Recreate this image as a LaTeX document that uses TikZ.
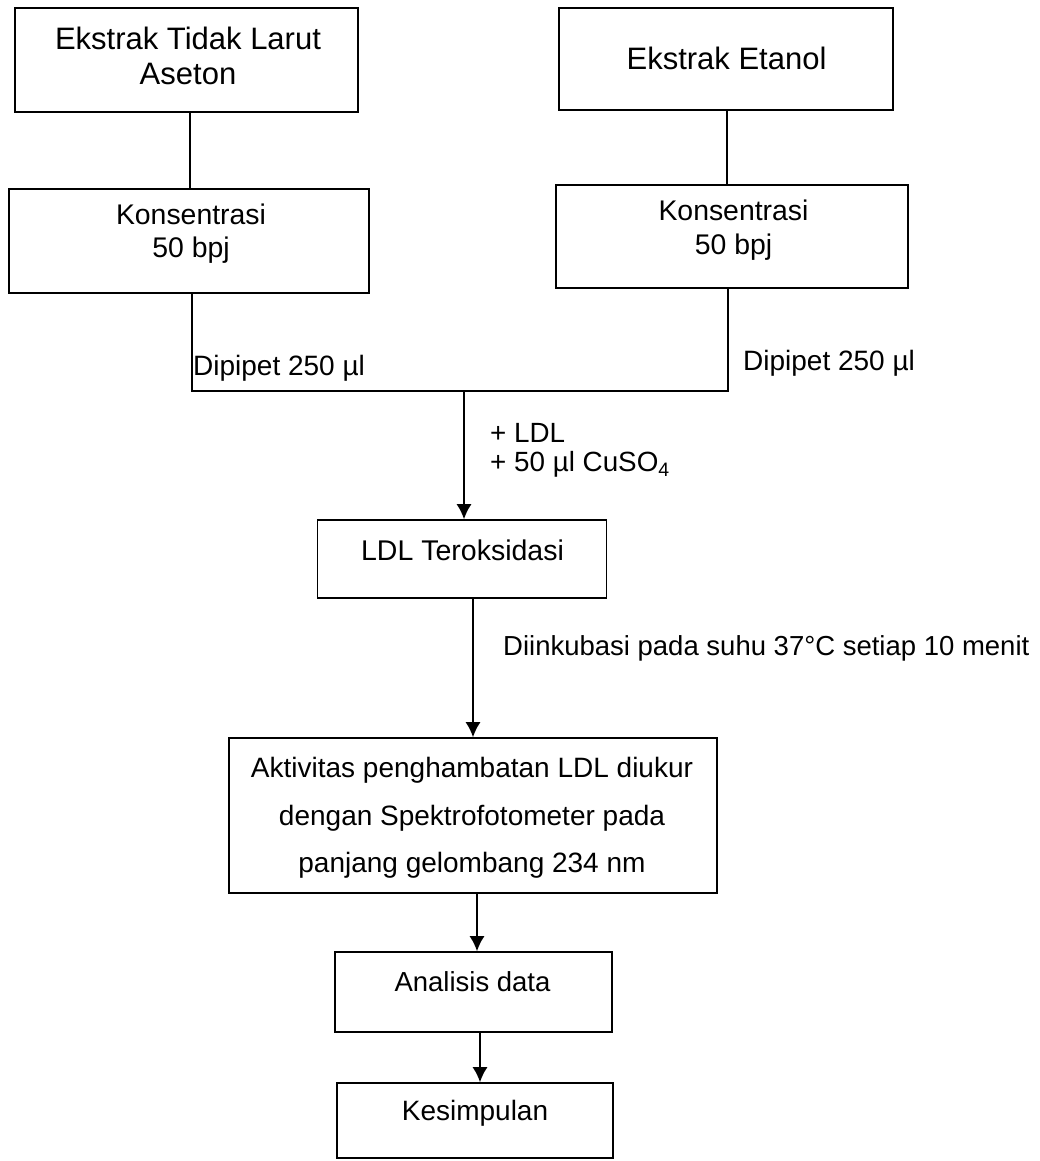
\documentclass[tikz,border=0pt]{standalone}
\usepackage{fontspec}
\setmainfont{Liberation Sans}
\usetikzlibrary{arrows.meta}
\begin{document}
\begin{tikzpicture}[x=1pt,y=-1pt,
  box/.style={draw, line width=1.6pt, rectangle, inner sep=0pt},
  txt/.style={inner sep=0pt, align=center, font=\fontsize{28pt}{47.5pt}\selectfont},
  toptxt/.style={inner sep=0pt, align=center, font=\fontsize{31pt}{35pt}\selectfont},
  kontxt/.style={inner sep=0pt, align=center, font=\fontsize{28.4pt}{33.5pt}\selectfont},
  lbl/.style={inner sep=0pt, anchor=west, font=\fontsize{28pt}{30pt}\selectfont},
  ln/.style={line width=1.6pt},
  arr/.style={line width=1.6pt, -{Latex[length=15pt,width=15pt]}}]
\useasboundingbox (0,0) rectangle (1040,1161);
% boxes
\node[box, minimum width=343pt, minimum height=104pt] (b1) at (186.5,60) {};
\node[box, minimum width=334pt, minimum height=102pt] (b2) at (726,59) {};
\node[box, minimum width=360pt, minimum height=104pt] (b3) at (189,241) {};
\node[box, minimum width=352pt, minimum height=103pt] (b4) at (732,236.5) {};
\node[box, minimum width=289pt, minimum height=78pt] (ldl) at (462,559) {};
\node[box, minimum width=488pt, minimum height=155pt] (akt) at (473,815.5) {};
\node[box, minimum width=277pt, minimum height=80pt] (ana) at (473.5,992) {};
\node[box, minimum width=276pt, minimum height=75pt] (kes) at (475,1120.5) {};
% texts
\node[toptxt] (t1) at (188,55.5) {Ekstrak Tidak Larut\\Aseton};
\node[toptxt] (t2) at (726.5,58) {Ekstrak Etanol};
\node[kontxt] (t3) at (191,233.5) {Konsentrasi\\50 bpj};
\node[kontxt] (t4) at (733.5,230) {Konsentrasi\\50 bpj};
\node[txt, font=\fontsize{28.5pt}{33pt}\selectfont] (t5) at (462.5,550) {LDL Teroksidasi};
\node[txt] (t6) at (472,818) {Aktivitas penghambatan LDL diukur\\dengan Spektrofotometer pada\\panjang gelombang 234 nm};
\node[txt, font=\fontsize{27.5pt}{33pt}\selectfont] (t7) at (472.5,982) {Analisis data};
\node[txt] (t8) at (475,1113) {Kesimpulan};
% labels
\node[lbl] (l1) at (193,368) {Dipipet 250 µl};
\node[lbl] (l2) at (743,363) {Dipipet 250 µl};
\node[lbl, font=\fontsize{27.8pt}{30pt}\selectfont] (l3) at (490,433) {+ LDL};
\node[lbl, font=\fontsize{27.8pt}{30pt}\selectfont] (l4) at (490,464) {+ 50 µl CuSO\textsubscript{4}};
\node[lbl, font=\fontsize{27.5pt}{30pt}\selectfont] (l5) at (503,648) {Diinkubasi pada suhu 37°C setiap 10 menit};
% connectors
\coordinate (jn) at (464,391);
\coordinate (lb) at ([xshift=3pt]b3.south);
\coordinate (rb) at ([xshift=-4pt]b4.south);
\draw[ln] ([xshift=3.5pt]b1.south) -- ([xshift=3.5pt]b1.south |- b3.north);
\draw[ln] ([xshift=1pt]b2.south) -- ([xshift=1pt]b2.south |- b4.north);
\draw[ln] (lb) -- (lb |- jn) -- (jn -| rb) -- (rb);
\draw[arr] (jn) -- (jn |- ldl.north);
\draw[arr] ([xshift=11pt]ldl.south) -- ([xshift=11pt]ldl.south |- akt.north);
\draw[arr] ([xshift=3.5pt]akt.south -| ana.north) -- ([xshift=3.5pt]ana.north);
\draw[arr] ([xshift=6.5pt]ana.south) -- ([xshift=6.5pt]ana.south |- kes.north);
\end{tikzpicture}
\end{document}
